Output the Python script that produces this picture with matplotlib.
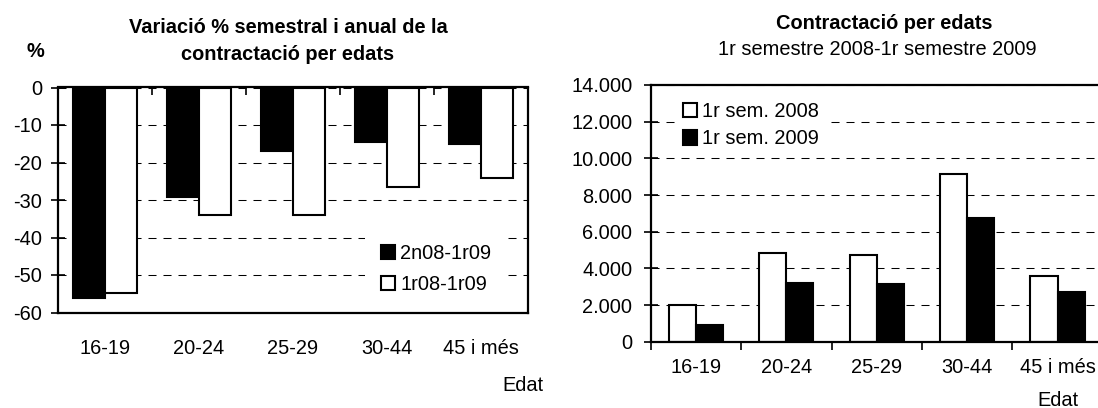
import matplotlib
matplotlib.use("Agg")
import matplotlib.pyplot as plt
import numpy as np
from matplotlib.patches import Patch
from matplotlib.ticker import FuncFormatter, FixedLocator

plt.rcParams['font.family'] = ['Liberation Sans', 'DejaVu Sans']
plt.rcParams['axes.unicode_minus'] = False

categories = ["16-19", "20-24", "25-29", "30-44", "45 i més"]
var_2n08_1r09 = [-56.0, -29.3, -16.9, -14.5, -15.1]
var_1r08_1r09 = [-54.7, -34.0, -33.9, -26.5, -24.1]
sem_2008 = [2030, 4860, 4730, 9160, 3570]
sem_2009 = [910, 3230, 3160, 6750, 2740]

W, H = 1098, 408
FS = 14.4
fig = plt.figure(figsize=(W / 100, H / 100), dpi=100)


def rect(l, t, r, b):
    return [l / W, 1 - b / H, (r - l) / W, (b - t) / H]


def fx(x):
    return x / W


def fy(y):
    return 1 - y / H


grid_kw = dict(color='black', linewidth=0.75, linestyle=(0, (7.7, 6.7)))
x = np.arange(len(categories))

# ---------------- Left chart ----------------
ax1 = fig.add_axes(rect(57.7, 87.5, 528, 312.5))
ax1.bar(x - 0.17, var_2n08_1r09, width=0.34, color='black', edgecolor='black',
        linewidth=1.5, label='2n08-1r09', zorder=1)
ax1.bar(x + 0.17, var_1r08_1r09, width=0.34, color='white', edgecolor='black',
        linewidth=1.5, label='1r08-1r09', zorder=1)
ax1.set_xlim(-0.5, len(categories) - 0.5)
ax1.set_ylim(-60, 0)
ax1.set_yticks(np.arange(-60, 1, 10))
ax1.set_axisbelow(True)
ax1.yaxis.grid(True, **grid_kw)
ax1.xaxis.grid(False)
for s in ax1.spines.values():
    s.set_linewidth(1.6)
ax1.tick_params(axis='y', direction='inout', length=10, width=1.2, labelsize=FS, pad=6)
ax1.set_xticks(x)
ax1.set_xticklabels(categories, fontsize=FS)
ax1.tick_params(axis='x', which='major', length=0, pad=19)
ax1.xaxis.set_minor_locator(FixedLocator(np.arange(0.5, len(categories) - 1, 1)))
ax1.tick_params(axis='x', which='minor', bottom=False, top=True, direction='in',
                length=6, width=1.2)

h1 = [Patch(facecolor='black', edgecolor='black', linewidth=1.5),
      Patch(facecolor='white', edgecolor='black', linewidth=1.5)]
leg1 = ax1.legend(h1, ['2n08-1r09', '1r08-1r09'], loc='upper left',
                  bbox_to_anchor=(fx(365), fy(228)), bbox_transform=fig.transFigure,
                  borderaxespad=0, borderpad=0.8, fontsize=FS, handlelength=0.72,
                  handleheight=0.72, handletextpad=0.25, labelspacing=0.6,
                  frameon=True, fancybox=False, edgecolor='none', facecolor='white',
                  framealpha=1)
leg1.set_zorder(2)

fig.text(fx(288), fy(33), "Variació % semestral i anual de la", ha='center',
         va='baseline', fontsize=FS, fontweight='bold')
fig.text(fx(288), fy(60), "contractació per edats", ha='center',
         va='baseline', fontsize=FS, fontweight='bold')
fig.text(fx(35), fy(57), "%", ha='center', va='baseline', fontsize=FS,
         fontweight='bold')
fig.text(fx(543), fy(391), "Edat", ha='right', va='baseline', fontsize=FS)

# ---------------- Right chart ----------------
ax2 = fig.add_axes(rect(650.7, 85, 1102.7, 341.8))
ax2.bar(x - 0.15, sem_2008, width=0.3, color='white', edgecolor='black',
        linewidth=1.5, label='1r sem. 2008', zorder=1)
ax2.bar(x + 0.15, sem_2009, width=0.3, color='black', edgecolor='black',
        linewidth=1.5, label='1r sem. 2009', zorder=1)
ax2.set_xlim(-0.5, len(categories) - 0.5)
ax2.set_ylim(0, 14000)
ax2.set_yticks(np.arange(0, 14001, 2000))
ax2.yaxis.set_major_formatter(FuncFormatter(lambda v, p: f"{int(v):,}".replace(",", ".")))
ax2.set_axisbelow(True)
ax2.yaxis.grid(True, **grid_kw)
ax2.xaxis.grid(False)
for s in ax2.spines.values():
    s.set_linewidth(1.6)
ax2.tick_params(axis='y', direction='inout', length=10.5, width=1.2, labelsize=FS, pad=8)
ax2.set_xticks(x)
ax2.set_xticklabels(categories, fontsize=FS)
ax2.tick_params(axis='x', which='major', length=0, pad=12)
ax2.xaxis.set_minor_locator(FixedLocator(np.arange(-0.5, len(categories) - 0.4, 1)))
ax2.tick_params(axis='x', which='minor', bottom=True, direction='out',
                length=6, width=1.2)

h2 = [Patch(facecolor='white', edgecolor='black', linewidth=1.5),
      Patch(facecolor='black', edgecolor='black', linewidth=1.5)]
leg2 = ax2.legend(h2, ['1r sem. 2008', '1r sem. 2009'], loc='upper left',
                  bbox_to_anchor=(fx(675), fy(94)), bbox_transform=fig.transFigure,
                  borderaxespad=0, borderpad=0.4, fontsize=FS, handlelength=0.72,
                  handleheight=0.72, handletextpad=0.25, labelspacing=0.42,
                  frameon=True, fancybox=False, edgecolor='none', facecolor='white',
                  framealpha=1)
leg2.set_zorder(2)

fig.text(fx(884), fy(29), "Contractació per edats", ha='center', va='baseline',
         fontsize=FS, fontweight='bold')
fig.text(fx(877), fy(55), "1r semestre 2008-1r semestre 2009", ha='center',
         va='baseline', fontsize=FS)
fig.text(fx(1058), fy(406), "Edat", ha='center', va='baseline', fontsize=FS)

fig.savefig("out.png", dpi=100)
